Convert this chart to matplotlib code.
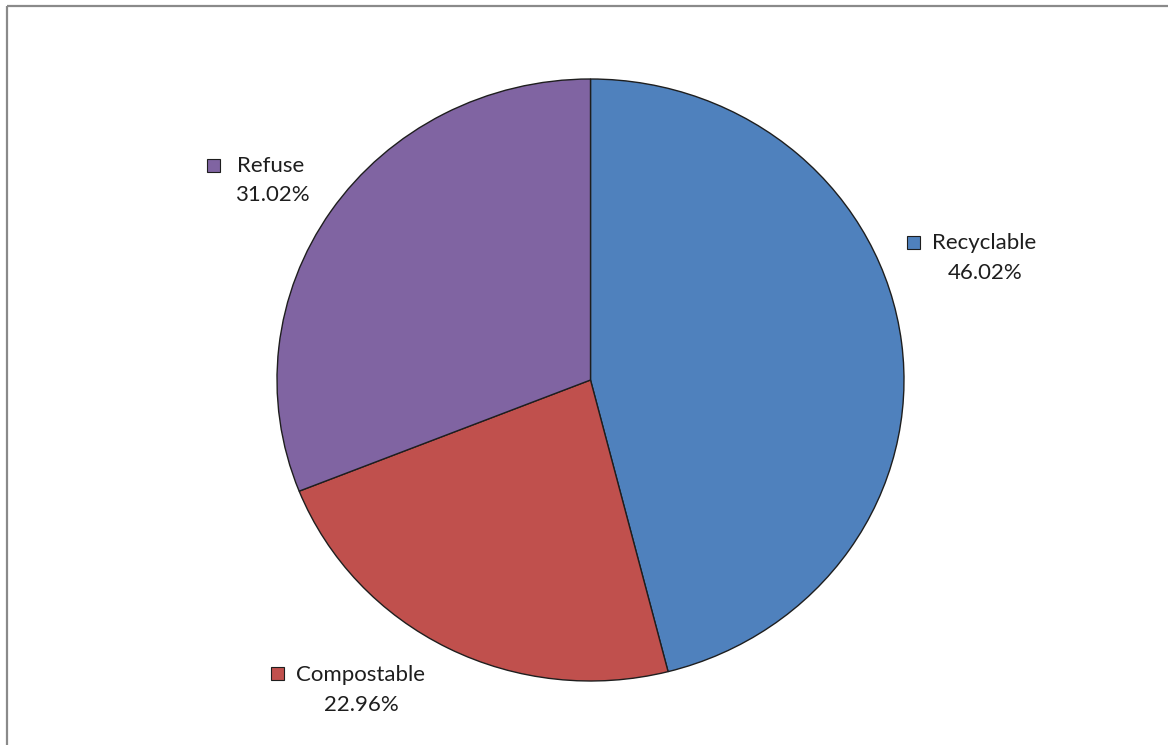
import matplotlib
matplotlib.use("Agg")
import matplotlib.pyplot as plt
from matplotlib.patches import Rectangle

categories = ["Recyclable", "Compostable", "Refuse"]
shares = [46.02, 22.96, 31.02]
colors = ["#4F81BD", "#C0504D", "#8064A2"]

W, H = 1168, 745
fig = plt.figure(figsize=(W / 100, H / 100), dpi=100)
fig.patch.set_facecolor("white")

# pixel-space overlay for frame and labels (y measured from top)
over = fig.add_axes([0, 0, 1, 1])
over.set_xlim(0, W)
over.set_ylim(H, 0)
over.axis("off")

# chart-area frame, running off the right and bottom edges
over.add_patch(Rectangle((7, 6), W + 20, H + 20, fill=False,
                         edgecolor="#8a8a8a", linewidth=1.6, zorder=1))

# pie drawn in its own axes so it can be stretched slightly
left, right, top, bottom = 277, 904, 79, 681
pax = fig.add_axes([left / W, (H - bottom) / H, (right - left) / W, (bottom - top) / H])
pax.pie(shares, colors=colors, startangle=90, counterclock=False,
        wedgeprops=dict(edgecolor="#1e1e1e", linewidth=1.0))
pax.set_aspect("auto")
pax.set_xlim(-1, 1)
pax.set_ylim(-1, 1)
pax.axis("off")

font = dict(family=["Lato", "DejaVu Sans"], size=16, color="#1e1e1e")

# label anchor: legend key square (x, y top-left), name position, percent position
label_pos = {
    "Recyclable": ((907, 236), (932, 243), (985, 273)),
    "Compostable": ((271, 667), (296, 675), (361, 705)),
    "Refuse": ((207, 159), (237, 166), (272, 195)),
}

for name, share, col in zip(categories, shares, colors):
    (kx, ky), (tx, ty), (px, py) = label_pos[name]
    over.add_patch(Rectangle((kx, ky), 13, 13, facecolor=col,
                             edgecolor="#1e1e1e", linewidth=0.8, zorder=3))
    over.text(tx, ty, name, ha="left", va="center", zorder=3, **font)
    over.text(px, py, f"{share:.2f}%", ha="center", va="center", zorder=3, **font)

fig.savefig("out.png", dpi=100, facecolor="white")
